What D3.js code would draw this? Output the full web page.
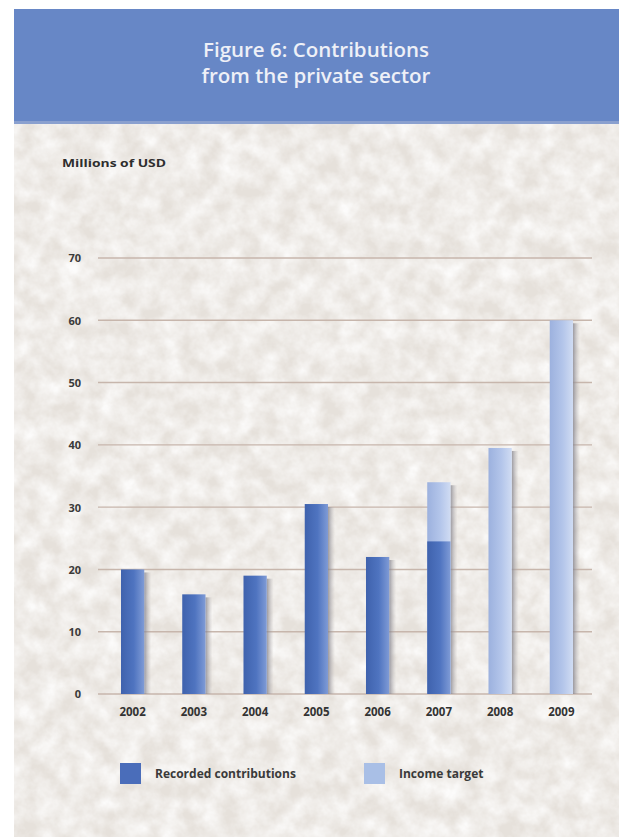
<!DOCTYPE html>
<html>
<head>
<meta charset="utf-8">
<script src="https://cdn.jsdelivr.net/npm/d3@7"></script>
<style>
  html, body { margin: 0; padding: 0; background: #ffffff; }
  svg { display: block; }
</style>
</head>
<body>
<svg id="chart" width="619" height="837"></svg>
<script>
// ---- data ----
const years = ["2002", "2003", "2004", "2005", "2006", "2007", "2008", "2009"];
const recorded = [20, 16, 19, 30.5, 22, 24.5, null, null];
const target = [null, null, null, null, null, 34, 39.5, 60];
const yTicks = [0, 10, 20, 30, 40, 50, 60, 70];
const titleLines = ["Figure 6: Contributions", "from the private sector"];
const yTitle = "Millions of USD";
const legendLabels = ["Recorded contributions", "Income target"];

const svg = d3.select("#chart");
const defs = svg.append("defs");

// paper texture filter
const f = defs.append("filter").attr("id", "paper").attr("x", 0).attr("y", 0).attr("width", 1).attr("height", 1);
f.append("feTurbulence").attr("type", "fractalNoise").attr("baseFrequency", "0.05").attr("numOctaves", 4).attr("seed", 7).attr("result", "noise");
f.append("feColorMatrix").attr("in", "noise").attr("type", "matrix")
  .attr("values", "0 0 0 0 0.975  0 0 0 0 0.97  0 0 0 0 0.965  1.6 0 0 0 -0.4").attr("result", "tint");
f.append("feComposite").attr("in", "tint").attr("in2", "SourceGraphic").attr("operator", "in");

// bar gradients
function grad(id, c1, c2, c3) {
  const g = defs.append("linearGradient").attr("id", id).attr("x1", 0).attr("x2", 1).attr("y1", 0).attr("y2", 0);
  g.append("stop").attr("offset", "0%").attr("stop-color", c1);
  g.append("stop").attr("offset", "55%").attr("stop-color", c2);
  g.append("stop").attr("offset", "100%").attr("stop-color", c3);
}
grad("gRec", "#3f62ad", "#4f74c0", "#7f9bd6");
grad("gTar", "#9cb1de", "#b3c5ea", "#d0dcf3");
const sh = defs.append("linearGradient").attr("id", "gShadow").attr("x1", 0).attr("x2", 1);
sh.append("stop").attr("offset", "0%").attr("stop-color", "#85848e").attr("stop-opacity", 0.8);
sh.append("stop").attr("offset", "100%").attr("stop-color", "#b8b4b4").attr("stop-opacity", 0);

// background
svg.append("rect").attr("x", 14).attr("y", 123).attr("width", 605).attr("height", 714).attr("fill", "#e6e1db");
svg.append("rect").attr("x", 14).attr("y", 123).attr("width", 605).attr("height", 714).attr("fill", "#f7f5f2").attr("filter", "url(#paper)");

// banner
svg.append("rect").attr("x", 14).attr("y", 9).attr("width", 605).attr("height", 114).attr("fill", "#6787c6");
svg.append("rect").attr("x", 14).attr("y", 121).attr("width", 605).attr("height", 3).attr("fill", "#8aa0cf");
svg.append("text").attr("x", 316).attr("y", 57).attr("text-anchor", "middle")
  .attr("font-family", "Open Sans, sans-serif").attr("font-size", 20.5).attr("font-weight", 600).attr("fill", "#eef0f7")
  .selectAll("tspan").data(titleLines).join("tspan")
  .attr("x", 316).attr("dy", (d, i) => i === 0 ? 0 : 26).text(d => d);

// scales
const x = d3.scaleBand().domain(years).range([102, 592]).paddingInner(0.62).paddingOuter(0.31);
const y = d3.scaleLinear().domain([0, 70]).range([694, 258]);

// gridlines
svg.append("g").selectAll("line").data(yTicks).join("line")
  .attr("x1", 98).attr("x2", 592).attr("y1", d => y(d)).attr("y2", d => y(d))
  .attr("stroke", "#c7b6ac").attr("stroke-width", 1.4);

// y axis labels
const yAxis = d3.axisLeft(y).tickValues(yTicks).tickSize(0).tickPadding(0);
const ya = svg.append("g").attr("transform", "translate(81,0)").call(yAxis);
ya.select(".domain").remove();
ya.selectAll("text").attr("font-family", "Open Sans, sans-serif").attr("font-size", 11)
  .attr("font-weight", "bold").attr("fill", "#3a3a3a").attr("dy", "0.35em");

// y title
svg.append("text").attr("x", 62).attr("y", 167).text(yTitle)
  .attr("font-family", "Open Sans, sans-serif").attr("font-size", 10).attr("font-weight", "bold").attr("fill", "#2e2e2e")
  .attr("textLength", 104).attr("lengthAdjust", "spacingAndGlyphs");

// bars
const bw = x.bandwidth();
const totals = years.map((yr, i) => Math.max(recorded[i] || 0, target[i] || 0));
const gBars = svg.append("g");
// shadows
gBars.selectAll("rect.shadow").data(years).join("rect").attr("class", "shadow")
  .attr("x", d => x(d) + bw).attr("width", 7)
  .attr("y", (d, i) => y(totals[i]) + 3).attr("height", (d, i) => y(0) - y(totals[i]) - 3)
  .attr("fill", "url(#gShadow)");
// target bars (full height)
gBars.selectAll("rect.tar").data(years.filter((d, i) => target[i] != null)).join("rect").attr("class", "tar")
  .attr("x", d => x(d)).attr("width", bw)
  .attr("y", d => y(target[years.indexOf(d)]))
  .attr("height", d => y(0) - y(target[years.indexOf(d)]))
  .attr("fill", "url(#gTar)");
// recorded bars
gBars.selectAll("rect.rec").data(years.filter((d, i) => recorded[i] != null)).join("rect").attr("class", "rec")
  .attr("x", d => x(d)).attr("width", bw)
  .attr("y", d => y(recorded[years.indexOf(d)]))
  .attr("height", d => y(0) - y(recorded[years.indexOf(d)]))
  .attr("fill", "url(#gRec)");

// x axis labels
const xAxis = d3.axisBottom(x).tickSize(0).tickPadding(0);
const xa = svg.append("g").attr("transform", "translate(0,712)").call(xAxis);
xa.select(".domain").remove();
xa.selectAll("text").attr("font-family", "Open Sans, sans-serif").attr("font-size", 11.5)
  .attr("font-weight", "bold").attr("fill", "#333333").attr("dy", "0.35em");

// legend
const legendColors = ["#4a6dba", "#a9bfe6"];
const legendX = [120, 364];
const lg = svg.append("g").selectAll("g").data(legendLabels).join("g")
  .attr("transform", (d, i) => `translate(${legendX[i]},763)`);
lg.append("rect").attr("width", 21).attr("height", 21).attr("fill", (d, i) => legendColors[i]);
lg.append("text").attr("x", 35).attr("y", 15).text(d => d)
  .attr("font-family", "Open Sans, sans-serif").attr("font-size", 12).attr("font-weight", "bold").attr("fill", "#3a3a3a");
</script>
</body>
</html>
